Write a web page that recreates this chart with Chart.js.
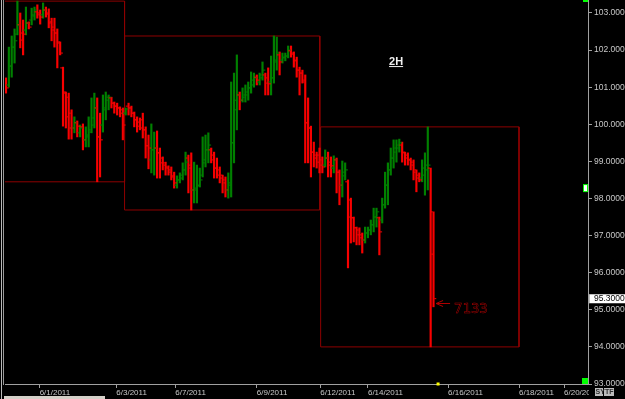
<!DOCTYPE html>
<html>
<head>
<meta charset="utf-8">
<title>2H bars</title>
<style>
    html, body { margin: 0; padding: 0; background: #000; overflow: hidden; }
    canvas { display: block; }
</style>
</head>
<body>
<canvas id="priceChart" width="625" height="399"></canvas>
<script src="https://cdn.jsdelivr.net/npm/chart.js@4.4.0/dist/chart.umd.min.js"></script>
<script>
// OHLC of each 2H bar (index 0 = leftmost bar)
var highs = [
    101.25, 102.08, 102.38, 102.57, 103.32, 103.00, 102.81, 103.16, 102.76, 103.13,
    103.16, 103.22, 103.08, 103.27, 103.16, 103.11, 102.86, 102.86, 102.57, 102.22,
    101.54, 100.87, 100.84, 100.39, 100.20, 100.09, 99.98, 100.01, 99.93, 100.20,
    100.71, 100.84, 100.71, 100.30, 100.79, 100.87, 100.79, 100.73, 100.60, 100.57,
    100.47, 100.44, 100.44, 100.57, 100.49, 100.33, 100.20, 100.17, 100.30, 99.93,
    99.71, 100.01, 99.79, 99.82, 99.36, 99.12, 98.98, 98.88, 98.85, 98.71,
    98.61, 98.69, 98.96, 99.25, 99.17, 99.23, 98.98, 98.90, 98.82, 99.66,
    99.71, 99.77, 99.36, 99.25, 99.09, 98.85, 98.63, 98.58, 98.69, 101.14,
    101.38, 101.87, 100.87, 100.98, 101.06, 101.14, 101.41, 101.38, 101.33, 101.38,
    101.68, 101.38, 101.52, 101.84, 102.38, 102.35, 101.95, 101.92, 101.92, 102.11,
    102.11, 101.95, 101.81, 101.54, 101.46, 101.33, 100.71, 99.95, 99.52, 99.25,
    99.36, 99.12, 99.31, 99.25, 99.12, 99.15, 99.09, 98.77, 99.01, 98.96,
    98.50, 98.01, 97.50, 97.23, 97.21, 97.07, 97.23, 97.23, 97.42, 97.74,
    97.74, 97.50, 98.01, 98.71, 98.96, 99.36, 99.58, 99.58, 99.60, 99.52,
    99.25, 99.23, 99.09, 99.04, 98.77, 98.69, 99.04, 99.23, 99.93, 98.82, 97.64
];
var lows = [
    100.84, 101.00, 101.27, 101.65, 102.41, 102.06, 101.87, 102.41, 102.57, 102.68,
    102.81, 102.86, 102.70, 102.86, 102.89, 102.60, 102.25, 102.08, 101.52, 101.87,
    99.95, 99.90, 99.60, 99.60, 99.77, 99.66, 99.66, 99.31, 99.39, 99.39,
    99.77, 99.90, 98.45, 98.58, 99.79, 100.12, 100.39, 100.44, 100.30, 100.25,
    100.20, 99.58, 100.25, 100.25, 100.20, 99.93, 99.79, 99.85, 99.63, 99.09,
    98.80, 98.69, 98.63, 98.55, 98.55, 98.77, 98.63, 98.63, 98.50, 98.28,
    98.28, 98.42, 98.50, 98.63, 98.15, 97.69, 97.88, 97.88, 98.31, 98.58,
    98.85, 98.96, 98.96, 98.55, 98.55, 98.42, 98.15, 98.04, 98.01, 98.04,
    98.96, 99.85, 100.39, 100.60, 100.60, 100.65, 100.84, 101.00, 101.06, 101.06,
    101.19, 100.79, 100.79, 100.79, 101.11, 101.46, 101.33, 101.65, 101.71, 101.79,
    101.81, 101.54, 101.27, 100.79, 101.11, 98.96, 98.96, 98.58, 98.85, 98.82,
    98.69, 98.69, 98.85, 98.58, 98.58, 98.69, 98.15, 97.83, 98.04, 98.50,
    96.13, 96.80, 96.83, 96.75, 96.75, 96.53, 96.80, 96.94, 97.02, 97.10,
    97.23, 96.48, 97.34, 97.74, 97.83, 98.63, 98.82, 98.98, 99.25, 98.98,
    98.90, 98.90, 98.77, 98.50, 98.18, 98.45, 98.45, 98.09, 98.23, 94.00, 95.08
];
var opens = [
    101.19, 101.06, 101.57, 102.08, 102.43, 102.68, 102.46, 102.54, 102.73, 102.81,
    102.95, 103.03, 103.00, 102.95, 103.08, 103.00, 102.73, 102.62, 102.46, 102.19,
    101.52, 100.84, 100.73, 100.30, 99.90, 100.04, 99.77, 99.93, 99.58, 99.66,
    99.85, 99.98, 100.44, 99.66, 99.98, 100.39, 100.65, 100.71, 100.57, 100.49,
    100.44, 100.39, 100.30, 100.49, 100.44, 100.30, 100.12, 100.06, 100.12, 99.85,
    99.42, 99.04, 99.31, 99.36, 99.23, 99.09, 98.96, 98.85, 98.77, 98.58,
    98.36, 98.50, 98.63, 98.77, 99.09, 98.90, 98.23, 98.23, 98.36, 98.63,
    98.96, 99.31, 99.31, 99.17, 98.82, 98.77, 98.55, 98.50, 98.23, 98.42,
    99.50, 100.39, 100.79, 100.65, 100.73, 100.79, 100.98, 101.06, 101.27, 101.14,
    101.33, 101.33, 101.25, 101.14, 101.25, 101.68, 101.87, 101.73, 101.79, 101.84,
    101.98, 101.89, 101.73, 101.46, 101.38, 101.14, 100.04, 99.90, 99.25, 99.17,
    99.17, 99.04, 98.90, 99.09, 98.98, 98.82, 99.04, 98.71, 98.36, 98.61,
    98.45, 97.96, 97.48, 97.21, 97.15, 97.02, 96.88, 97.07, 97.15, 97.29,
    97.50, 97.48, 97.42, 97.83, 98.36, 98.77, 99.09, 99.25, 99.36, 99.44,
    99.23, 99.17, 99.04, 98.98, 98.71, 98.63, 98.55, 98.63, 98.77, 98.82, 97.64
];
var closes = [
    100.98, 101.57, 102.08, 102.25, 102.68, 102.27, 102.43, 102.73, 102.62, 102.92,
    103.08, 102.95, 102.89, 103.08, 102.97, 102.76, 102.54, 102.46, 102.22, 101.92,
    100.87, 100.20, 99.90, 99.90, 100.04, 99.95, 99.90, 99.58, 99.71, 99.79,
    100.17, 100.44, 99.66, 99.58, 100.44, 100.73, 100.73, 100.57, 100.49, 100.44,
    100.30, 99.98, 100.41, 100.44, 100.30, 100.12, 99.95, 99.90, 99.85, 99.42,
    99.36, 99.31, 99.36, 99.23, 98.96, 98.90, 98.82, 98.71, 98.61, 98.42,
    98.50, 98.55, 98.77, 98.98, 98.82, 98.23, 98.28, 98.34, 98.50, 99.04,
    99.31, 99.44, 99.04, 98.82, 98.63, 98.63, 98.42, 98.23, 98.36, 99.50,
    100.65, 100.79, 100.65, 100.79, 100.87, 100.98, 101.19, 101.25, 101.19, 101.25,
    101.46, 101.11, 101.09, 101.25, 101.73, 101.92, 101.68, 101.81, 101.84, 102.00,
    101.92, 101.71, 101.46, 101.38, 101.19, 100.04, 99.90, 99.25, 99.09, 98.98,
    98.90, 98.85, 99.09, 98.90, 98.88, 99.04, 98.71, 98.36, 98.71, 98.77,
    97.50, 97.48, 97.21, 97.02, 96.94, 96.88, 97.07, 97.15, 97.29, 97.50,
    97.64, 97.10, 97.83, 98.36, 98.77, 99.09, 99.36, 99.44, 99.50, 99.25,
    99.09, 99.04, 98.90, 98.77, 98.55, 98.50, 98.82, 98.90, 98.90, 96.50, 95.30
];

// date ticks, placed on the bar index axis
var xTickPos = [11.8, 38.7, 59.4, 88, 110.3, 127, 155.1, 180, 195.8];
var xTickLabels = ['6/1/2011', '6/3/2011', '6/7/2011', '6/9/2011', '6/12/2011',
                   '6/14/2011', '6/16/2011', '6/18/2011', '6/20/2011'];
var yTicks = [93, 94, 95, 96, 97, 98, 99, 100, 101, 102, 103];

// weekly range boxes (bar index bounds)
var boxStart = [-26.9, 41.6, 110.4];
var boxEnd = [41.6, 110.1, 180];

var upColor = '#008000';
var downColor = '#f80000';
var boxColor = '#8e0000';
var axisColor = '#a0a0a0';
var textColor = '#c8c8c8';
var smallFont = "'Liberation Sans Narrow', 'Liberation Sans', Arial, sans-serif";

var barColors = closes.map(function (c, i) { return c >= opens[i] ? upColor : downColor; });
var rangeData = highs.map(function (h, i) { return { x: i, y: [lows[i], h] }; });
var openData = opens.map(function (o, i) { return { x: i - 0.62, y: o }; });
var closeData = closes.map(function (c, i) { return { x: i + 0.62, y: c }; });

var boxSets = boxStart.map(function (s, k) {
    var hi = -Infinity, lo = Infinity;
    for (var i = 0; i < highs.length; i++) {
        if (i >= s && i <= boxEnd[k]) {
            hi = Math.max(hi, highs[i]);
            lo = Math.min(lo, lows[i]);
        }
    }
    var e = boxEnd[k];
    return {
        type: 'line',
        data: [{ x: s, y: hi }, { x: e, y: hi }, { x: e, y: lo }, { x: s, y: lo }, { x: s, y: hi }],
        borderColor: boxColor,
        borderWidth: 1,
        pointRadius: 0,
        pointHoverRadius: 0,
        fill: false,
        tension: 0,
        order: 3
    };
});

// text notes on the chart
var frameLabel = { text: '2H', x: 134.4, y: 101.61 };
var countLabel = { text: '7133', x: 150.9, y: 95.18 };
var timeMarker = 151.6;
var sideMarker = 98.28;

var notesPlugin = {
    id: 'notes',
    beforeDraw: function (chart) {
        var ctx = chart.ctx;
        ctx.save();
        ctx.fillStyle = '#000';
        ctx.fillRect(0, 0, chart.width, chart.height);
        ctx.fillStyle = '#b8b8b8';
        ctx.fillRect(1, 0, 1, 399);
        ctx.fillStyle = '#9a9a9a';
        ctx.fillRect(3, 0, 1, 385);
        ctx.fillStyle = '#d4d0c8';
        ctx.fillRect(4, 396, 101, 3);
        ctx.restore();
    },
    afterDraw: function (chart) {
        var ctx = chart.ctx, xs = chart.scales.x, ys = chart.scales.y, area = chart.chartArea;
        ctx.save();

        // 2H label
        var tx = xs.getPixelForValue(frameLabel.x), ty = ys.getPixelForValue(frameLabel.y);
        ctx.font = "bold 11px 'Liberation Sans', Arial, sans-serif";
        ctx.fillStyle = '#f0f0f0';
        ctx.textBaseline = 'alphabetic';
        ctx.fillText(frameLabel.text, tx, ty);
        ctx.fillRect(tx, ty + 1.5, ctx.measureText(frameLabel.text).width, 1);

        // arrow + count
        var ax = xs.getPixelForValue(countLabel.x), ay = Math.round(ys.getPixelForValue(countLabel.y)) + 0.5;
        ctx.strokeStyle = '#b00000';
        ctx.lineWidth = 1;
        ctx.beginPath();
        ctx.moveTo(ax + 7, ay - 3);
        ctx.lineTo(ax, ay);
        ctx.lineTo(ax + 7, ay + 3);
        ctx.moveTo(ax, ay);
        ctx.lineTo(ax + 14, ay);
        ctx.stroke();
        ctx.font = "14px 'DejaVu Sans Mono', monospace";
        ctx.lineWidth = 0.5;
        ctx.strokeText(countLabel.text, ax + 18, ay + 9);

        // markers on the right edge
        ctx.fillStyle = '#00ff00';
        ctx.fillRect(area.right - 6, area.bottom - 6, 6, 6);
        ctx.fillRect(area.right - 5, 0, 5, 2);
        var my = ys.getPixelForValue(sideMarker);
        ctx.fillRect(area.right - 5, my - 4, 5, 8);
        ctx.fillStyle = '#ffffff';
        ctx.fillRect(area.right - 4, my - 3, 3, 6);

        // current time dot
        ctx.fillStyle = '#ffff00';
        ctx.fillRect(xs.getPixelForValue(timeMarker) - 1.5, area.bottom - 1.5, 3, 3);

        // current price tag
        var last = closes[closes.length - 1];
        var py = Math.round(ys.getPixelForValue(last));
        ctx.fillStyle = '#ffffff';
        ctx.fillRect(area.right + 1, py - 5, chart.width - area.right - 1, 9);
        ctx.strokeStyle = '#808080';
        ctx.strokeRect(area.right + 1.5, py - 4.5, chart.width - area.right, 9);
        ctx.fillStyle = '#000';
        ctx.font = '8.5px ' + smallFont;
        ctx.textBaseline = 'middle';
        ctx.fillText(last.toFixed(4), area.right + 6, py);

        // bottom right corner buttons
        ctx.fillStyle = '#000';
        ctx.fillRect(area.right + 1, 387, chart.width - area.right, 12);
        ctx.fillStyle = '#bcbcbc';
        ctx.fillRect(595, 388, 8, 8);
        ctx.fillRect(604, 388, 10, 8);
        ctx.fillStyle = '#303030';
        ctx.font = 'bold 7px ' + smallFont;
        ctx.fillText('SY', 595.5, 392.5);
        ctx.fillText('TF', 605, 392.5);
        ctx.restore();
    }
};

var ctx = document.getElementById('priceChart').getContext('2d');
var chart = new Chart(ctx, {
    type: 'bar',
    data: {
        datasets: [
            {
                type: 'bar',
                data: rangeData,
                backgroundColor: barColors,
                borderWidth: 0,
                barThickness: 1.5,
                order: 2
            },
            {
                type: 'scatter',
                data: openData,
                pointStyle: 'line',
                pointRadius: 1,
                pointHoverRadius: 0,
                pointBorderWidth: 1,
                pointBorderColor: barColors,
                order: 1
            },
            {
                type: 'scatter',
                data: closeData,
                pointStyle: 'line',
                pointRadius: 1,
                pointHoverRadius: 0,
                pointBorderWidth: 1,
                pointBorderColor: barColors,
                order: 1
            }
        ].concat(boxSets)
    },
    options: {
        responsive: false,
        animation: false,
        events: [],
        layout: { autoPadding: false, padding: { left: 5, right: 0, top: 0, bottom: 0 } },
        plugins: { legend: { display: false }, tooltip: { enabled: false } },
        scales: {
            x: {
                type: 'linear',
                min: -0.351,
                max: 204.21,
                offset: false,
                grid: { display: true, drawOnChartArea: false, drawTicks: true, tickLength: 4, color: axisColor, offset: false },
                border: { display: true, color: axisColor },
                ticks: {
                    autoSkip: false,
                    maxRotation: 0,
                    minRotation: 0,
                    align: 'start',
                    padding: 0,
                    color: textColor,
                    font: { family: smallFont, size: 8 },
                    callback: function (v, i) { return xTickLabels[i]; }
                },
                afterBuildTicks: function (s) { s.ticks = xTickPos.map(function (v) { return { value: v }; }); },
                afterFit: function (s) { s.height = 15; s.paddingLeft = 0; s.paddingRight = 0; }
            },
            y: {
                position: 'right',
                min: 93,
                max: 103.35,
                grid: { display: true, drawOnChartArea: false, drawTicks: true, tickLength: 4, color: axisColor },
                border: { display: true, color: axisColor },
                ticks: {
                    padding: 2,
                    color: textColor,
                    font: { family: smallFont, size: 8.5 },
                    callback: function (v) { return Number(v).toFixed(4); }
                },
                afterBuildTicks: function (s) { s.ticks = yTicks.map(function (v) { return { value: v }; }); },
                afterFit: function (s) { s.width = 37; s.paddingTop = 0; s.paddingBottom = 0; }
            }
        }
    },
    plugins: [notesPlugin]
});
</script>
</body>
</html>
